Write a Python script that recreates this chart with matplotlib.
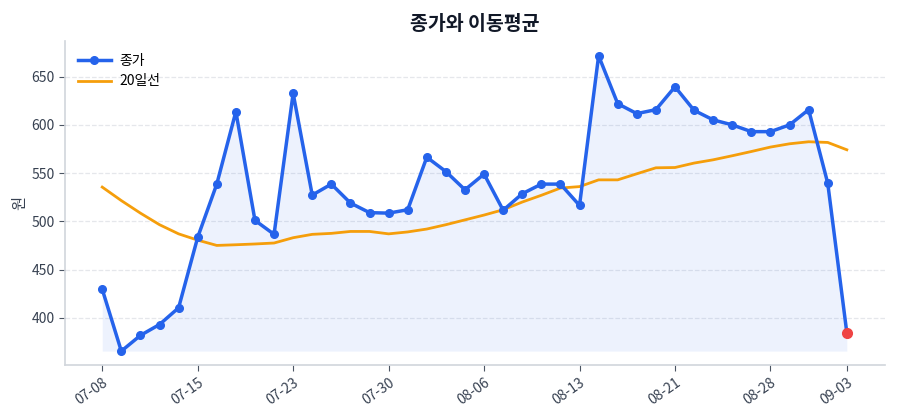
import matplotlib
matplotlib.use("Agg")
import matplotlib.pyplot as plt
import numpy as np

plt.rcParams['font.family'] = ['Noto Sans CJK KR', 'DejaVu Sans']

dates = ["07-08", "07-09", "07-10", "07-11", "07-12",
         "07-15", "07-16", "07-18", "07-19", "07-22",
         "07-23", "07-24", "07-25", "07-26", "07-29",
         "07-30", "07-31", "08-01", "08-02", "08-05",
         "08-06", "08-07", "08-08", "08-09", "08-12",
         "08-13", "08-14", "08-16", "08-19", "08-20",
         "08-21", "08-22", "08-23", "08-26", "08-27",
         "08-28", "08-29", "08-30", "09-02", "09-03"]

close = [429.6, 365.4, 381.7, 393, 410.3,
         483.4, 538.6, 613.8, 501, 486.5,
         632.7, 527.2, 538.6, 519, 509,
         508.5, 512, 566.5, 551.6, 532.7,
         549, 511.5, 528.6, 538.6, 538.6,
         516.5, 671.7, 622, 611.7, 615.8,
         639.5, 615.1, 605.2, 600, 593,
         593, 600, 615.8, 539.6, 384.5]

ma20 = [535.5, 521.5, 508.5, 496.5, 487,
        480.5, 475, 475.7, 476.5, 477.5,
        483, 486.5, 487.5, 489.5, 489.5,
        487, 489, 492, 496.5, 501.5,
        506.5, 512, 520, 527, 534.5,
        536, 543, 543, 549.3, 555.5,
        555.8, 560.4, 563.8, 568, 572.4,
        577, 580.4, 582.5, 581.8, 574.2]

tick_idx = [0, 5, 10, 15, 20, 25, 30, 35, 39]

blue = "#2563eb"
orange = "#f59e0b"
red = "#ef4444"

fig = plt.figure(figsize=(9, 4.2), dpi=100)
ax = fig.add_axes([65/900, 1-365/420, (885-65)/900, (365-41)/420])

x = np.arange(len(close))
c = np.array(close)
ax.fill_between(x, c, c.min(), color=blue, alpha=0.08, linewidth=0, zorder=1)
ax.plot(x, c, color=blue, linewidth=2.5, marker='o', markersize=5.5, label="종가", zorder=3)
ax.plot(x, ma20, color=orange, linewidth=2, label="20일선", zorder=2)
ax.plot([x[-1]], [c[-1]], 'o', color=red, markersize=7, zorder=4)

ax.set_xlim(-1.95, 41.0)
ax.set_ylim(351, 687)
ax.set_yticks([400, 450, 500, 550, 600, 650])
ax.set_xticks(tick_idx)
ax.set_xticklabels([dates[i] for i in tick_idx], rotation=35, ha='right', rotation_mode='anchor')

ax.grid(axis='y', linestyle='--', color='#e5e7eb', linewidth=0.9)
ax.set_axisbelow(True)
for s in ['top', 'right']:
    ax.spines[s].set_visible(False)
for s in ['left', 'bottom']:
    ax.spines[s].set_color('#d1d5db')
    ax.spines[s].set_linewidth(1.2)
ax.tick_params(axis='both', colors='#4b5563', labelsize=10, length=4)
ax.tick_params(axis='both', labelcolor='#374151')

ax.set_ylabel("원", color='#374151', fontsize=11, labelpad=2)
ax.set_title("종가와 이동평균", fontsize=14, fontweight='bold', color='#111827', pad=8)

leg = ax.legend(loc='upper left', frameon=False, fontsize=10, handlelength=2.4, handletextpad=0.6)

fig.savefig("out.png", dpi=100)
